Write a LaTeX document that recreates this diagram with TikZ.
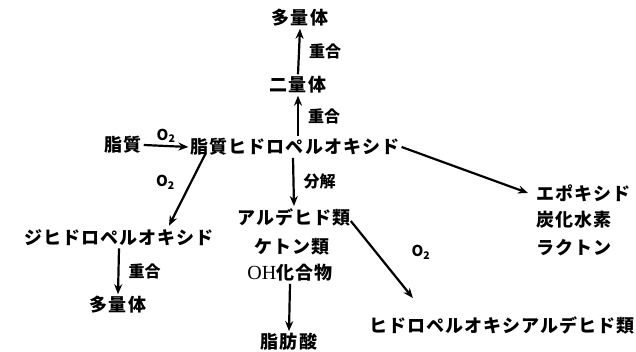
\documentclass[tikz,border=0pt]{standalone}
\usepackage{fontspec}
\usetikzlibrary{arrows.meta,calc}
\newfontfamily\jp{Noto Sans CJK JP}[LetterSpace=6]
\newfontfamily\jpb{Noto Sans CJK JP}
\newfontfamily\ohfont{Liberation Serif}
\tikzset{
  lbl/.style={font=\jp\bfseries\fontsize{18}{20}\selectfont, inner sep=2pt},
  small/.style={font=\jpb\bfseries\fontsize{16}{18}\selectfont, inner sep=1pt},
  oxy/.style={font=\jpb\bfseries\fontsize{15}{17}\selectfont, inner sep=1pt},
  arr/.style={line width=2.2pt, -{Stealth[length=10pt,width=8pt]}}
}
\newcommand{\Otwo}{O\textsubscript{2}}
\begin{document}
\begin{tikzpicture}[x=1pt,y=-1pt]
\useasboundingbox[fill=white] (0,0) rectangle (636,352);
% nodes
\node[lbl] (poly1) at (300,18) {多量体};
\node[lbl] (dimer) at (298,85) {二量体};
\node[lbl] (lipid) at (123,145) {脂質};
\node[lbl] (lhp) at (295,147) {脂質ヒドロペルオキシド};
\node[lbl, anchor=west] (epox1) at (534,193) {エポキシド};
\node[lbl, anchor=west] (epox2) at (534,220) {炭化水素};
\node[lbl, anchor=west] (epox3) at (534,248) {ラクトン};
\node[lbl] (dihp) at (119,238) {ジヒドロペルオキシド};
\node[lbl] (poly2) at (118,305) {多量体};
\node[lbl] (ald1) at (294,217) {アルデヒド類};
\node[lbl] (ald2) at (292,247) {ケトン類};
\node[lbl] (ald3) at (290,273) {{\ohfont\mdseries\fontsize{20}{20}\selectfont OH}化合物};
\node[lbl] (fatty) at (289,342) {脂肪酸};
\node[lbl] (hpald) at (502,325) {ヒドロペルオキシアルデヒド類};
% arrows
\draw[arr] (dimer.north) -- (poly1.south) node[midway, right=8pt, small] (r1) {重合};
\draw[arr] (dimer.south |- lhp.north) -- (dimer.south) node[midway, right=8pt, small] (r2) {重合};
\draw[arr] (lipid.east) -- (lhp.west) node[midway, above=1pt, oxy] (o1) {\Otwo};
\draw[arr] (lhp.east) -- ($(epox1.west)+(-6,0)$);
\draw[arr] ($(lhp.south west)+(17,-4)$) -- ($(dihp.north)+(50,-2)$) node[pos=0.4, left=14pt, oxy] (o2) {\Otwo};
\draw[arr] (dihp.south) -- (poly2.north) node[midway, right=8pt, small] (r3) {重合};
\draw[arr] ($(lhp.south)+(-2,0)$) -- (ald1.north) node[midway, right=8pt, small] (d1) {分解};
\draw[arr] ($(ald1.east)+(-2,4)$) -- ($(hpald.north west)+(46,-16)$);
\node[oxy] (o3) at (421,252) {\Otwo};
\draw[arr] (ald3.south) -- (fatty.north);
\end{tikzpicture}
\end{document}
